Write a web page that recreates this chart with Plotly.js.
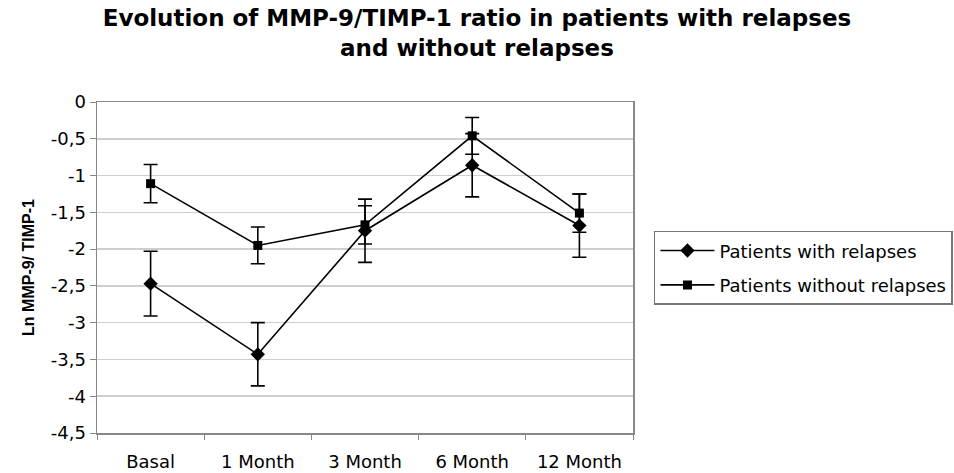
<!DOCTYPE html>
<html>
<head>
<meta charset="utf-8">
<script src="https://cdn.plot.ly/plotly-3.0.1.min.js"></script>
<style>html,body{margin:0;padding:0;background:#fff;}#chart{width:954px;height:473px;}</style>
</head>
<body>
<div id="chart"></div>
<script>
const categories = ["Basal", "1 Month", "3 Month", "6 Month", "12 Month"];
const withRelapses = [-2.47, -3.43, -1.75, -0.86, -1.68];
const withRelapsesErr = [0.44, 0.43, 0.43, 0.43, 0.43];
const withoutRelapses = [-1.11, -1.95, -1.67, -0.46, -1.51];
const withoutRelapsesErr = [0.26, 0.25, 0.26, 0.25, 0.26];
const yTickVals = [0, -0.5, -1, -1.5, -2, -2.5, -3, -3.5, -4, -4.5];
const yTickText = ["0", "-0,5", "-1", "-1,5", "-2", "-2,5", "-3", "-3,5", "-4", "-4,5"];

const font = "DejaVu Sans, Liberation Sans, Arial, sans-serif";
const fontArial = "Liberation Sans, Arial, sans-serif";

const traces = [
  {
    x: categories, y: withRelapses, name: "Patients with relapses",
    legendgroup: "a",
    type: "scatter", mode: "lines+markers",
    line: {color: "#000", width: 1.6},
    marker: {symbol: "diamond", size: 11, color: "#000"},
    error_y: {type: "data", array: withRelapsesErr, visible: true, color: "#000", thickness: 1.6, width: 7}
  },
  {
    x: categories, y: withoutRelapses, name: "Patients without relapses",
    legendgroup: "b",
    type: "scatter", mode: "lines+markers",
    line: {color: "#000", width: 1.6},
    marker: {symbol: "square", size: 9, color: "#000"},
    error_y: {type: "data", array: withoutRelapsesErr, visible: true, color: "#000", thickness: 1.6, width: 7}
  }
];

const layout = {
  width: 954, height: 473,
  margin: {l: 97, r: 321, t: 102, b: 40},
  paper_bgcolor: "#fff", plot_bgcolor: "#fff",
  font: {family: font, color: "#000", size: 18},
  title: {
    text: "<b>Evolution of MMP-9/TIMP-1 ratio in patients with relapses<br>and without relapses</b>",
    font: {family: font, size: 23, color: "#000"},
    x: 0.5, xanchor: "center", y: 0.945, yanchor: "top"
  },
  showlegend: true,
  legend: {
    xref: "container", yref: "container",
    x: 0.6855, xanchor: "left", y: 0.512, yanchor: "top",
    bgcolor: "#fff", bordercolor: "#777", borderwidth: 1.5,
    font: {family: font, size: 18, color: "#000"},
    itemwidth: 54, tracegroupgap: 8, traceorder: "grouped"
  },
  xaxis: {
    type: "category", tickson: "boundaries", range: [-0.5, 4.5],
    showline: true, linecolor: "#888", linewidth: 1.5, mirror: true,
    ticks: "outside", ticklen: 5, tickcolor: "#888", tickwidth: 1,
    showgrid: false, zeroline: false,
    tickfont: {family: font, size: 18, color: "#000"},
    ticklabelstandoff: 12
  },
  yaxis: {
    range: [-4.5, 0], tickvals: yTickVals, ticktext: yTickText,
    showline: true, linecolor: "#888", linewidth: 1.5, mirror: true,
    ticks: "outside", ticklen: 6, tickcolor: "#888", tickwidth: 1,
    showgrid: true, gridcolor: "#cfcfcf", gridwidth: 1.5, zeroline: false,
    tickfont: {family: font, size: 18, color: "#000"},
    title: {text: "<b>Ln MMP-9/ TIMP-1</b>", font: {family: fontArial, size: 16, color: "#000"}, standoff: 12}
  }
};

Plotly.newPlot("chart", traces, layout, {displayModeBar: false, staticPlot: true});
</script>
</body>
</html>
